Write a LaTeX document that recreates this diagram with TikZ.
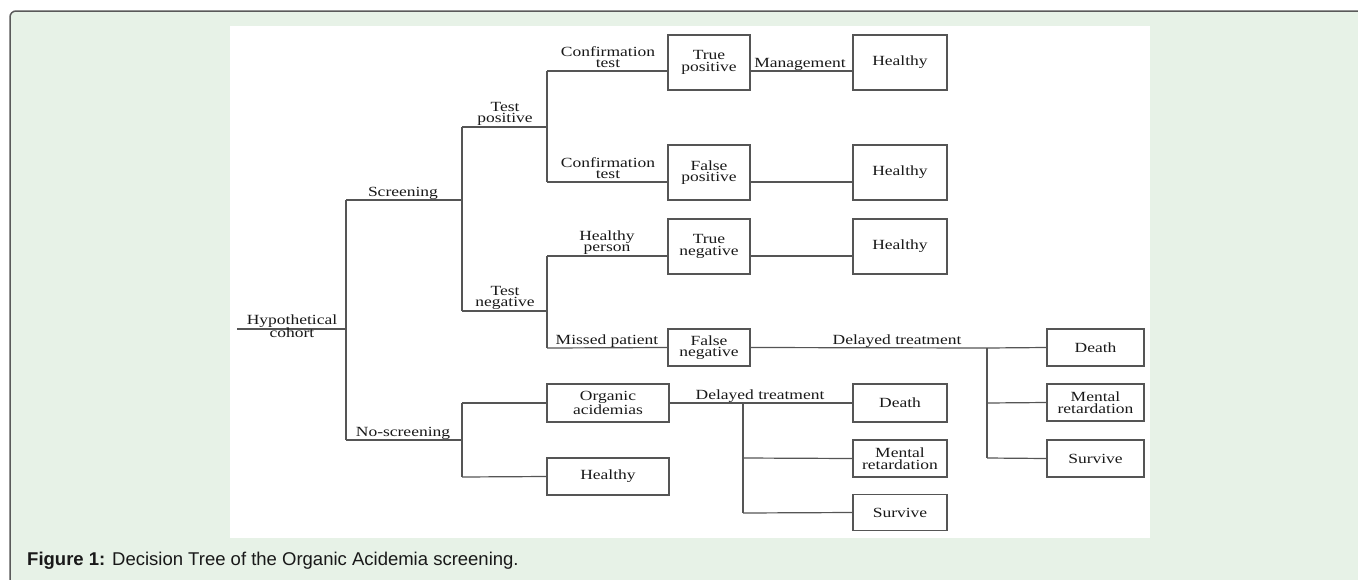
\documentclass[tikz,border=0pt]{standalone}
\usepackage{fontspec}
\setmainfont{Liberation Serif}
\newfontfamily\treefont{Liberation Serif}[FakeStretch=1.25]
\newfontfamily\capfont{Liberation Sans}
\usetikzlibrary{positioning}

\definecolor{panelgreen}{HTML}{E7F2E7}
\definecolor{framegray}{HTML}{5A5A5A}
\definecolor{linegray}{HTML}{555555}
\newcommand{\treesize}{\treefont\fontsize{14}{11.5}\selectfont}

\begin{document}
\begin{tikzpicture}[x=1pt, y=-1pt,
    box/.style={draw=linegray, line width=1.2pt, inner sep=0pt, align=center, font=\treesize, text=black!90},
    lbl/.style={inner sep=0pt, anchor=south, text depth=0pt, align=center, font=\treesize, text=black!90},
    branch/.style={draw=linegray, line width=1.2pt}]
    \useasboundingbox (0,0) rectangle (1358,579);
    \fill[white] (0,0) rectangle (1358,579);
    \clip (0,0) rectangle (1358,579);
    \draw[framegray, line width=1.5pt, fill=panelgreen, rounded corners=6pt] (10,11) rectangle (1380,600);
    \fill[white] (230,26) rectangle (1150,538);

    % boxes
    \node[box, minimum width=82, minimum height=55] (tp) at (709,62.5) {True\\positive};
    \node[box, minimum width=94, minimum height=55] (h1) at (900,62.5) {Healthy};
    \node[box, minimum width=82, minimum height=55] (fp) at (709,172.5) {False\\positive};
    \node[box, minimum width=94, minimum height=55] (h2) at (900,172.5) {Healthy};
    \node[box, minimum width=82, minimum height=55] (tn) at (709,246.5) {True\\negative};
    \node[box, minimum width=94, minimum height=55] (h3) at (900,246.5) {Healthy};
    \node[box, minimum width=82, minimum height=37] (fn) at (709,347.5) {False\\negative};
    \node[box, minimum width=97, minimum height=37] (d1) at (1095.5,347.5) {Death};
    \node[box, minimum width=97, minimum height=37] (m1) at (1095.5,402.5) {Mental\\retardation};
    \node[box, minimum width=97, minimum height=37] (s1) at (1095.5,458.5) {Survive};
    \node[box, minimum width=122, minimum height=38] (oa) at (608,403) {Organic\\acidemias};
    \node[box, minimum width=122, minimum height=37] (hb) at (608,476.5) {Healthy};
    \node[box, minimum width=94, minimum height=38] (d2) at (900,403) {Death};
    \node[box, minimum width=94, minimum height=37] (m2) at (900,458.5) {Mental\\retardation};
    \node[box, minimum width=94, minimum height=36] (s2) at (900,512.5) {Survive};

    % branch points
    \coordinate (hc) at (237,329);
    \coordinate (b0) at (346,329);
    \coordinate (b0s) at (346,200);
    \coordinate (b0n) at (346,440);
    \coordinate (b1) at (462,200);
    \coordinate (b1p) at (462,127);
    \coordinate (b1n) at (462,311);
    \coordinate (b2) at (547,127);
    \coordinate (b2t) at (547,71);
    \coordinate (b2b) at (547,182);
    \coordinate (b3) at (547,311);
    \coordinate (b3t) at (547,256);
    \coordinate (b3b) at (547,348);
    \coordinate (b4) at (462,440);
    \coordinate (b4t) at (462,403);
    \coordinate (b4b) at (462,477);
    \coordinate (b5) at (987,348);
    \coordinate (b5m) at (987,403);
    \coordinate (b5b) at (987,458);
    \coordinate (b6) at (743,403);
    \coordinate (b6m) at (743,458);
    \coordinate (b6b) at (743,513);

    \draw[branch] (hc) -- (b0);
    \draw[branch] (b0s) -- (b0n);
    \draw[branch] (b0s) -- (b1);
    \draw[branch] (b0n) -- (b4);
    \draw[branch] (b1p) -- (b1n);
    \draw[branch] (b1p) -- (b2);
    \draw[branch] (b1n) -- (b3);
    \draw[branch] (b2t) -- (b2b);
    \draw[branch] (b2t) -- (b2t -| tp.west);
    \draw[branch] (b2b) -- (b2b -| fp.west);
    \draw[branch] (b2t -| tp.east) -- (b2t -| h1.west);
    \draw[branch] (b2b -| fp.east) -- (b2b -| h2.west);
    \draw[branch] (b3t) -- (b3b);
    \draw[branch] (b3t) -- (b3t -| tn.west);
    \draw[branch] (b3b) -- (fn.west);
    \draw[branch] (b3t -| tn.east) -- (b3t -| h3.west);
    \draw[branch] (fn.east) -- (b5) -- (d1.west);
    \draw[branch] (b5) -- (b5b);
    \draw[branch] (b5m) -- (m1.west);
    \draw[branch] (b5b) -- (s1.west);
    \draw[branch] (b4t) -- (b4b);
    \draw[branch] (b4t) -- (oa.west);
    \draw[branch] (b4b) -- (hb.west);
    \draw[branch] (oa.east) -- (b6) -- (d2.west);
    \draw[branch] (b6) -- (b6b);
    \draw[branch] (b6m) -- (m2.west);
    \draw[branch] (b6b) -- (s2.west);

    % labels
    \node[lbl] (lhc) at (292,338) {Hypothetical\\cohort};
    \node[lbl] (lscr) at (403,197) {Screening};
    \node[lbl] (ltp) at (505,123) {Test\\positive};
    \node[lbl] (ltn) at (505,307) {Test\\negative};
    \node[lbl] (lct1) at (608,68) {Confirmation\\test};
    \node[lbl] (lct2) at (608,179) {Confirmation\\test};
    \node[lbl] (lhp) at (607,252) {Healthy\\person};
    \node[lbl] (lmp) at (607,345) {Missed patient};
    \node[lbl] (lman) at (800,68) {Management};
    \node[lbl] (ldt1) at (897,345) {Delayed treatment};
    \node[lbl] (lnos) at (403,437) {No-screening};
    \node[lbl] (ldt2) at (760,400) {Delayed treatment};

    \node[anchor=base west, inner sep=0pt, font=\capfont\fontsize{18.5}{22}\selectfont, text=black!90] (cap) at (27,565)
        {\textbf{Figure 1:} Decision Tree of the Organic Acidemia screening.};
\end{tikzpicture}
\end{document}
